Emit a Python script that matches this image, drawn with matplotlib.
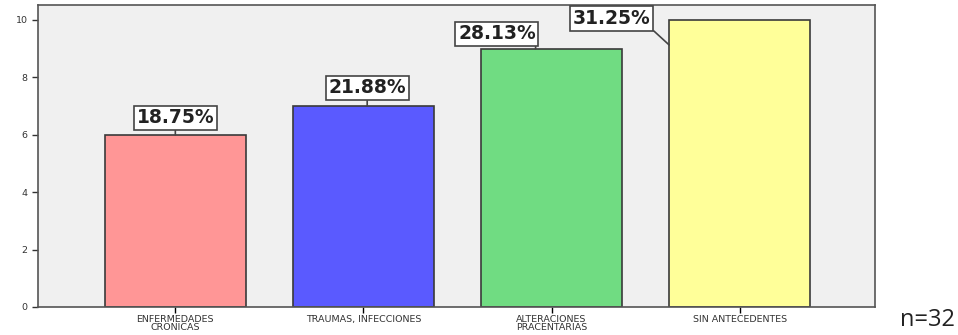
import matplotlib.pyplot as plt

categories = ['ENFERMEDADES\nCRONICAS', 'TRAUMAS, INFECCIONES',
              'ALTERACIONES\nPRACENTARIAS', 'SIN ANTECEDENTES']
counts = [6, 7, 9, 10]
percent_labels = ['18.75%', '21.88%', '28.13%', '31.25%']
colors = ['#ff9696', '#5a5aff', '#70dc82', '#ffff99']

plt.rcParams['font.family'] = ['DejaVu Sans']

fig = plt.figure(figsize=(9.58, 3.35), dpi=100)
ax = fig.add_axes([0.0397, 0.0836, 0.8737, 0.9015])
ax.set_facecolor('#f0f0f0')

x = range(len(counts))
ax.bar(x, counts, width=0.75, color=colors, edgecolor='#3a3a3a', linewidth=1.2)

ax.set_xlim(-0.73, 3.72)
ax.set_ylim(0, 10.52)
ax.set_yticks([0, 2, 4, 6, 8, 10])
ax.set_xticks(list(x))
ax.set_xticklabels(categories, fontsize=6.8, linespacing=0.75, color='#333333')
ax.tick_params(axis='y', labelsize=6.8, colors='#333333', length=4, width=1)
ax.tick_params(axis='x', length=4, width=1, pad=2)
for s in ax.spines.values():
    s.set_color('#555555')
    s.set_linewidth(1.2)

box = dict(boxstyle='square,pad=0.14', fc='white', ec='#444444', lw=1.2)

# label box centres and where each connector meets its bar (data coords)
text_pos = [(0.0, 6.59), (1.02, 7.63), (1.71, 9.51), (2.32, 10.05)]
anchor = [(0.0, 6.0), (1.02, 7.0), (1.915, 9.0), (2.625, 9.13)]
rel = [(0.5, 0.5), (0.5, 0.5), (1.0, 0.0), (1.0, 0.0)]
for i, lab in enumerate(percent_labels):
    ax.annotate(lab, xy=anchor[i], xytext=text_pos[i], textcoords='data',
                ha='center', va='center', fontsize=13.5, fontweight='bold',
                color='#222222', bbox=box,
                arrowprops=dict(arrowstyle='-', color='#444444', lw=1.2,
                                shrinkA=0, shrinkB=0, relpos=rel[i]))

fig.text(0.968, 0.045, 'n=32', fontsize=17, family=['Open Sans', 'DejaVu Sans'],
         ha='center', va='center', color='#222222')

fig.savefig('out.png', dpi=100)
